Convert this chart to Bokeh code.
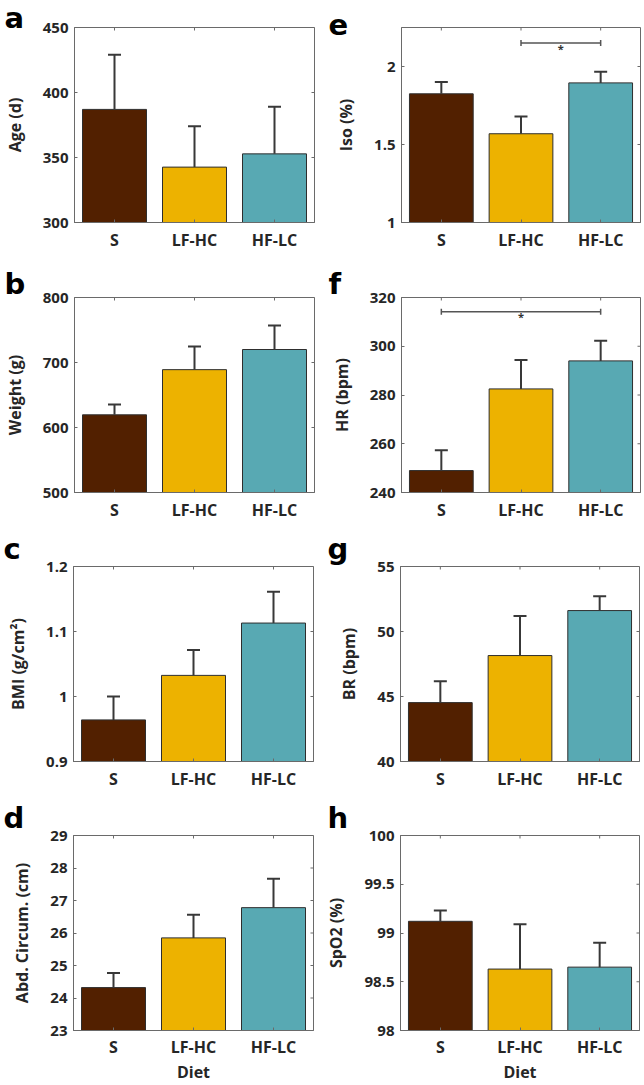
from bokeh.plotting import figure
from bokeh.models import (ColumnDataSource, Range1d, FixedTicker, CustomJSTickFormatter,
                          Whisker, TeeHead)
from bokeh.layouts import column, row
from bokeh.embed import file_html
from bokeh.resources import INLINE
from bokeh.core.properties import value

# ---------------- data ----------------
diets = ["S", "LF-HC", "HF-LC"]
bar_colors = ["#522000", "#EDB200", "#58A9B3"]

age_mean = [387.0, 342.6, 352.8]
age_err = [42.0, 31.4, 36.2]
age_ticks = [300, 350, 400, 450]

weight_mean = [619.5, 689.0, 720.0]
weight_err = [16.0, 35.5, 37.0]
weight_ticks = [500, 600, 700, 800]

bmi_mean = [0.964, 1.0325, 1.113]
bmi_err = [0.036, 0.039, 0.048]
bmi_ticks = [0.9, 1.0, 1.1, 1.2]

abd_mean = [24.32, 25.85, 26.78]
abd_err = [0.45, 0.71, 0.89]
abd_ticks = [23, 24, 25, 26, 27, 28, 29]

iso_mean = [1.825, 1.569, 1.895]
iso_err = [0.075, 0.111, 0.071]
iso_ticks = [1.0, 1.5, 2.0]

hr_mean = [249.0, 282.5, 294.0]
hr_err = [8.3, 11.9, 8.3]
hr_ticks = [240, 260, 280, 300, 320]

br_mean = [44.53, 48.15, 51.61]
br_err = [1.65, 3.05, 1.11]
br_ticks = [40, 45, 50, 55]

spo2_mean = [99.12, 98.63, 98.65]
spo2_err = [0.11, 0.46, 0.25]
spo2_ticks = [98.0, 98.5, 99.0, 99.5, 100.0]

# significance brackets: (from group, to group, height)
iso_sig = [("LF-HC", "HF-LC", 2.15)]
hr_sig = [("S", "HF-LC", 314.2)]

# ---------------- style ----------------
FONT = "Open Sans"
TXT = "#262626"
EDGE = "#6a6a6a"

panels = [
    # letter, ylabel, mean, err, y-range, ticks, sig, col, row
    ("a", "Age (d)", age_mean, age_err, (300, 450), age_ticks, None, 0, 0),
    ("e", "Iso (%)", iso_mean, iso_err, (1.0, 2.25), iso_ticks, iso_sig, 1, 0),
    ("b", "Weight (g)", weight_mean, weight_err, (500, 800), weight_ticks, None, 0, 1),
    ("f", "HR (bpm)", hr_mean, hr_err, (240, 320), hr_ticks, hr_sig, 1, 1),
    ("c", "BMI (g/cm\u00b2)", bmi_mean, bmi_err, (0.9, 1.2), bmi_ticks, None, 0, 2),
    ("g", "BR (bpm)", br_mean, br_err, (40, 55), br_ticks, None, 1, 2),
    ("d", "Abd. Circum. (cm)", abd_mean, abd_err, (23, 29), abd_ticks, None, 0, 3),
    ("h", "SpO2 (%)", spo2_mean, spo2_err, (98, 100), spo2_ticks, None, 1, 3),
]

xs = list(range(1, len(diets) + 1))
FH = 195
TOPS = [27, 40, 40, 40]          # top border per row
BOTTOMS = [35, 34, 34, 54]       # bottom border per row
LETTER_STANDOFF = [-15, -6, 2, 2]


def make_panel(letter, ylabel, mean, err, yr, yticks, sig, col, row_i):
    left = 73 if col == 0 else 78
    right = 9 if col == 0 else 4
    fw = 240 if col == 0 else 239
    p = figure(frame_width=fw, frame_height=FH,
               x_range=Range1d(0.5, 3.5), y_range=Range1d(*yr),
               output_backend="svg", toolbar_location=None,
               min_border_left=left, min_border_right=right,
               min_border_top=TOPS[row_i], min_border_bottom=BOTTOMS[row_i])
    p.grid.visible = False
    p.outline_line_color = EDGE
    p.outline_line_width = 1
    p.background_fill_color = "white"
    p.border_fill_color = "white"

    # panel letter as the (left-aligned) title
    p.title.text = letter
    p.title.align = "left"
    p.title.offset = -70 if col == 0 else -73
    p.title.standoff = LETTER_STANDOFF[row_i]
    p.title.text_font = "DejaVu Sans"
    p.title.text_font_size = "29px"
    p.title.text_font_style = "bold"
    p.title.text_color = "black"

    src = ColumnDataSource(dict(x=xs, top=mean, color=bar_colors,
                                upper=[m + e for m, e in zip(mean, err)]))
    p.vbar(x="x", top="top", bottom=yr[0], width=0.8, fill_color="color",
           line_color="#2e2e2e", line_width=1, source=src)
    wh = Whisker(base="x", lower="top", upper="upper", source=src,
                 line_color="#383838", line_width=2, lower_head=None,
                 upper_head=TeeHead(size=13, line_color="#383838", line_width=2))
    wh.level = "annotation"
    p.add_layout(wh)

    # mirrored inward ticks on the top and right edges (clipped by the frame)
    p.scatter(x=[3.5] * len(yticks), y=yticks, marker="dash", size=6,
              line_color=EDGE, line_width=1)
    p.scatter(x=xs, y=[yr[1]] * len(xs), marker="dash", angle=1.5708, size=6,
              line_color=EDGE, line_width=1)

    if sig:
        for g0, g1, yv in sig:
            x0 = diets.index(g0) + 1
            x1 = diets.index(g1) + 1
            p.segment(x0=[x0], x1=[x1], y0=[yv], y1=[yv], line_color="#555555", line_width=1.5)
            p.scatter(x=[x0, x1], y=[yv, yv], marker="dash", angle=1.5708, size=6,
                      line_color="#555555", line_width=1.5)
            p.text(x=[(x0 + x1) / 2], y=[yv], text=["*"], text_align="center",
                   text_baseline="alphabetic", text_font=value(FONT),
                   text_font_size="11px", text_font_style="bold", text_color="#333333",
                   y_offset=5)

    # axes
    xa = p.xaxis[0]
    xa.ticker = FixedTicker(ticks=xs)
    xa.formatter = CustomJSTickFormatter(args=dict(labels=diets),
                                         code="return labels[Math.round(tick) - 1];")
    ya = p.yaxis[0]
    ya.ticker = FixedTicker(ticks=yticks)
    ya.formatter = CustomJSTickFormatter(code="return String(Math.round(tick * 1000) / 1000);")
    ya.axis_label = ylabel
    ya.axis_label_standoff = 14
    xa.major_label_standoff = 6
    if row_i == 3:
        xa.axis_label = "Diet"
        xa.axis_label_standoff = 0
        xa.major_label_standoff = 5
    for ax in (xa, ya):
        ax.major_label_text_font = FONT
        ax.major_label_text_font_style = "bold"
        ax.major_label_text_color = TXT
        ax.axis_label_text_font = FONT
        ax.axis_label_text_font_style = "bold"
        ax.axis_label_text_font_size = "16px"
        ax.axis_label_text_color = TXT
        ax.major_tick_in = 3
        ax.major_tick_out = 0
        ax.minor_tick_in = 0
        ax.minor_tick_out = 0
        ax.axis_line_color = EDGE
        ax.major_tick_line_color = EDGE
    xa.major_label_text_font_size = "16px"
    ya.major_label_text_font_size = "15px"
    ya.major_label_standoff = 6
    return p


figs = [make_panel(*pp) for pp in panels]
layout = column(*[row(figs[i], figs[i + 1], spacing=0) for i in range(0, 8, 2)], spacing=0)

open("out.html", "w").write(file_html(layout, INLINE))
